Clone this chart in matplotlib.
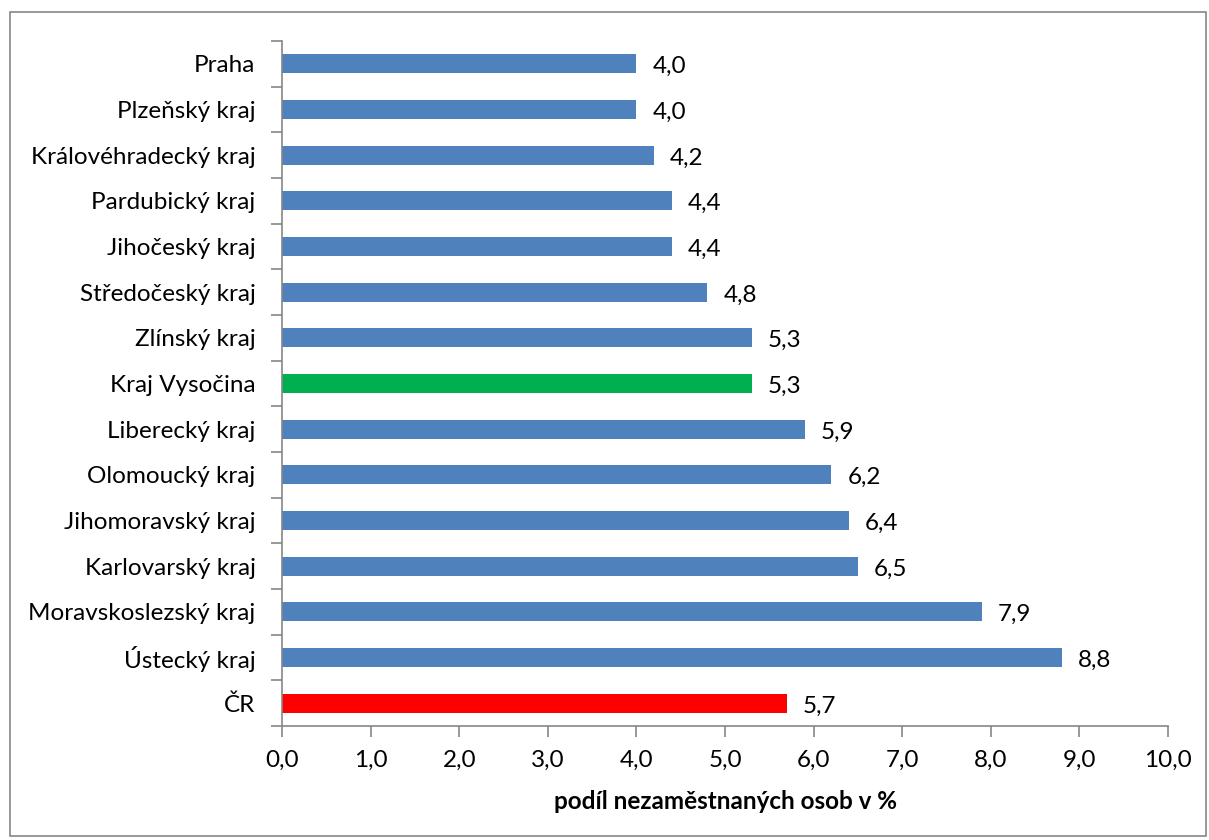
import matplotlib
matplotlib.use("Agg")
import matplotlib.pyplot as plt
from matplotlib.patches import Rectangle

categories = ["Praha", "Plzeňský kraj", "Královéhradecký kraj", "Pardubický kraj",
              "Jihočeský kraj", "Středočeský kraj", "Zlínský kraj", "Kraj Vysočina",
              "Liberecký kraj", "Olomoucký kraj", "Jihomoravský kraj", "Karlovarský kraj",
              "Moravskoslezský kraj", "Ústecký kraj", "ČR"]
values = [4.0, 4.0, 4.2, 4.4, 4.4, 4.8, 5.3, 5.3, 5.9, 6.2, 6.4, 6.5, 7.9, 8.8, 5.7]
xticks = [0, 1, 2, 3, 4, 5, 6, 7, 8, 9, 10]
xlabel = "podíl nezaměstnaných osob v %"

BLUE = "#4F81BD"
colors = []
for c in categories:
    if c == "ČR":
        colors.append("#FF0000")
    elif c == "Kraj Vysočina":
        colors.append("#00B050")
    else:
        colors.append(BLUE)

plt.rcParams['font.family'] = ['Lato', 'DejaVu Sans']

W, H = 1209, 840
fig = plt.figure(figsize=(W / 100, H / 100), dpi=100)
ax = fig.add_axes([282 / W, 1 - 726 / H, (1168 - 282) / W, (726 - 41) / H])

FS = 17.5
n = len(categories)
ypos = list(range(n))
ax.barh(ypos, values, height=0.42, color=colors)
ax.set_ylim(n - 0.5, -0.5)
ax.set_xlim(0, 10)

ax.set_yticks([i - 0.5 for i in range(n + 1)])
ax.set_yticklabels([])
ax.set_yticks(ypos, minor=True)
ax.set_yticklabels(categories, minor=True)
ax.tick_params(axis='y', which='major', length=8, color='#868686', width=1.2)
ax.tick_params(axis='y', which='minor', length=0, pad=19, labelsize=FS)

ax.set_xticks(xticks)
ax.set_xticklabels([f"{t:.1f}".replace('.', ',') for t in xticks])
ax.tick_params(axis='x', length=8, color='#868686', width=1.2, labelsize=FS, pad=9)

for s in ['top', 'right']:
    ax.spines[s].set_visible(False)
for s in ['left', 'bottom']:
    ax.spines[s].set_color('#868686')
    ax.spines[s].set_linewidth(1.2)

for y, v in zip(ypos, values):
    ax.annotate(f"{v:.1f}".replace('.', ','), (v, y), xytext=(16, -3),
                textcoords='offset pixels', ha='left', va='center', fontsize=FS)

ax.set_xlabel(xlabel, fontsize=17.5, fontweight='bold', labelpad=14)

fig.patches.append(Rectangle((10 / W, 1 - 836 / H), (1206 - 10) / W, (836 - 12) / H,
                             transform=fig.transFigure, fill=False,
                             edgecolor='#868686', linewidth=1.2))

fig.savefig("out.png", dpi=100)
